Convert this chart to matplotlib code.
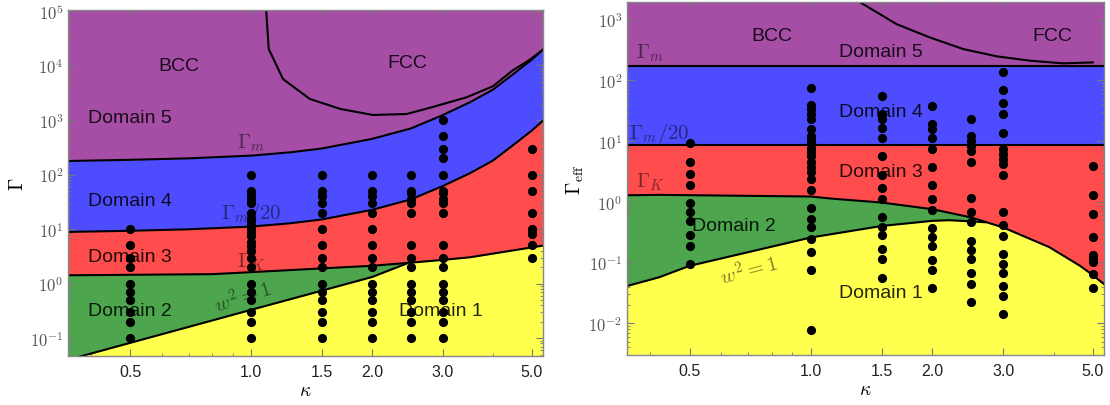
import numpy as np
import matplotlib
matplotlib.use('Agg')
import matplotlib.pyplot as plt
from matplotlib.ticker import FixedLocator, FuncFormatter, LogLocator, NullFormatter

plt.rcParams['mathtext.fontset'] = 'cm'
plt.rcParams['font.family'] = ['Liberation Sans', 'DejaVu Sans']

# ---------------- data: left panel (Gamma vs kappa) ----------------
kappa_m = [0.35, 0.5, 0.7, 1.0, 1.25, 1.5, 2.0, 2.5, 3.0, 3.5, 4.0, 4.5, 5.0, 5.33]
gamma_m = [177, 186, 198, 222, 255, 300, 450, 700, 1230, 2100, 3600, 7000, 12800, 19500]
kappa_K = [0.35, 0.8, 1.0, 1.5, 2.0, 2.5, 3.0, 3.5, 5.33]
gamma_K = [1.42, 1.49, 1.62, 1.90, 2.12, 2.42, 2.72, 3.03, 4.97]
kappa_w = [0.35, 1.0, 2.0, 2.45]
gamma_w = [0.040, 0.33, 1.32, 2.36]
kappa_yel = [0.35, 1.0, 2.0, 2.45, 2.5, 3.0, 3.5, 5.33]
gamma_yel = [0.040, 0.33, 1.32, 2.36, 2.42, 2.72, 3.03, 4.97]
kappa_fcc = [1.09, 1.106, 1.20, 1.40, 1.67, 2.01, 2.44, 2.83, 3.44, 4.0, 4.47, 4.93, 5.33]
gamma_fcc = [1.04e5, 20100, 5650, 2430, 1590, 1236, 1288, 1730, 2610, 4150, 8030, 12600, 19500]

dots_left = {
    0.5: [10, 5, 3, 2, 1, 0.7, 0.5, 0.3, 0.2, 0.1],
    1.0: [100, 50, 43, 36, 30, 20, 16, 14, 12, 10, 8.6, 7.4, 5.8, 4.8, 4, 3, 2, 1, 0.7, 0.5, 0.3, 0.2, 0.1, 0.01],
    1.5: [100, 50, 40, 30, 20, 10, 5, 3, 2, 1, 0.7, 0.5, 0.3, 0.2, 0.1],
    2.0: [100, 50, 40, 30, 20, 10, 5, 3, 2, 1, 0.7, 0.5, 0.3, 0.2, 0.1],
    2.5: [100, 50, 45, 35, 30, 20, 5, 3, 2, 1, 0.7, 0.5, 0.3, 0.2, 0.1],
    3.0: [1000, 500, 300, 200, 100, 50, 45, 35, 30, 20, 5, 3, 2, 1, 0.7, 0.5, 0.3, 0.2, 0.1],
    5.0: [300, 100, 50, 20, 10, 9, 8, 5, 3],
}

# ---------------- data: right panel (Gamma_eff vs kappa) ----------------
gamma_m_eff = 171.0
gamma_m20_eff = 8.55
kappa_K2 = [0.35, 0.42, 1.0, 1.12, 1.5, 2.0, 2.5, 3.0, 3.9, 4.65, 5.0, 5.33]
gamma_K2 = [1.28, 1.30, 1.22, 1.13, 0.97, 0.755, 0.551, 0.377, 0.179, 0.088, 0.062, 0.044]
kappa_yel2 = [0.35, 0.42, 0.5, 1.0, 1.5, 2.0, 2.2, 2.5, 2.7, 3.0, 3.9, 4.65, 5.0, 5.33]
gamma_yel2 = [0.041, 0.057, 0.088, 0.258, 0.40, 0.485, 0.497, 0.475, 0.46, 0.377, 0.179, 0.088, 0.062, 0.044]
n_w2_visible = 9
kappa_fcc2 = [1.32, 1.63, 1.97, 2.39, 2.89, 3.5, 4.23, 5.0]
gamma_fcc2 = [1950, 843, 509, 326, 248, 210, 190, 197]

dots_right = {
    0.5: [9.2, 4.6, 2.85, 1.9, 0.95, 0.68, 0.485, 0.28, 0.188, 0.094],
    1.0: [76, 39, 33.5, 27.8, 23, 15.5, 12.3, 10.7, 9.3, 7.8, 6.6, 5.7, 4.5, 3.7, 3.1, 2.35, 1.56,
          0.78, 0.53, 0.39, 0.24, 0.15, 0.076, 0.0077],
    1.5: [55.6, 27.8, 23.5, 16.7, 11.4, 5.7, 2.74, 1.67, 1.13, 0.564, 0.377, 0.282, 0.166, 0.113, 0.055],
    2.0: [37.1, 19.0, 15.7, 11.4, 7.35, 3.67, 1.88, 1.10, 0.735, 0.363, 0.258, 0.184, 0.110, 0.0755, 0.0374],
    2.5: [22.9, 11.9, 10.1, 8.3, 6.9, 4.5, 1.15, 0.69, 0.47, 0.227, 0.16, 0.113, 0.068, 0.045, 0.0225],
    3.0: [138, 69, 41.6, 27.8, 13.8, 7.36, 6.1, 5.0, 4.17, 2.74, 0.69, 0.417, 0.268, 0.137, 0.096,
          0.0683, 0.0411, 0.0283, 0.0141],
    5.0: [3.81, 1.28, 0.64, 0.258, 0.132, 0.116, 0.1, 0.064, 0.0387],
}

xticks = [0.5, 1.0, 1.5, 2.0, 3.0, 5.0]
xticklabels = ['0.5', '1.0', '1.5', '2.0', '3.0', '5.0']
yticks_left = [1e-1, 1e0, 1e1, 1e2, 1e3, 1e4, 1e5]
yticks_right = [1e-2, 1e-1, 1e0, 1e1, 1e2, 1e3]

# ---------------- style ----------------
C_PURPLE = '#A64DA6'
C_BLUE = '#4D4DFF'
C_RED = '#FF4D4D'
C_GREEN = '#4DA64D'
C_YELLOW = '#FFFF4D'
XLIM = (0.35, 5.33)

fig = plt.figure(figsize=(11.1, 4.06), dpi=100)
ax1 = fig.add_axes([0.0613, 0.1207, 0.4279, 0.8522])
ax2 = fig.add_axes([0.5649, 0.1232, 0.4297, 0.8695])


def style_axes(ax, ylim, ylabel, yticks):
    ax.set_xscale('log')
    ax.set_yscale('log')
    ax.set_xlim(*XLIM)
    ax.set_ylim(*ylim)
    ax.xaxis.set_major_locator(FixedLocator(xticks))
    ax.xaxis.set_major_formatter(FuncFormatter(lambda v, p: xticklabels[xticks.index(v)] if v in xticks else ''))
    ax.xaxis.set_minor_locator(LogLocator(base=10, subs=np.arange(2, 10)))
    ax.xaxis.set_minor_formatter(NullFormatter())
    ax.yaxis.set_major_locator(FixedLocator(yticks))
    ax.yaxis.set_major_formatter(FuncFormatter(lambda v, p: r'$10^{%d}$' % int(round(np.log10(v)))))
    ax.yaxis.set_minor_locator(LogLocator(base=10, subs=np.arange(2, 10), numticks=20))
    ax.yaxis.set_minor_formatter(NullFormatter())
    ax.tick_params(which='both', direction='in', top=True, right=True, color='#777777')
    ax.tick_params(which='major', length=5, width=0.8)
    ax.tick_params(which='minor', length=2.5, width=0.6)
    ax.tick_params(axis='y', labelsize=12, labelcolor='#555555')
    ax.tick_params(axis='x', pad=6, labelsize=11.5, labelcolor='#222222')
    for s in ax.spines.values():
        s.set_color('#888888')
        s.set_linewidth(1.0)
    ax.set_xlabel(r'$\kappa$', fontsize=14, labelpad=2)
    ax.set_ylabel(ylabel, fontsize=14, labelpad=2)


def draw_dots(ax, dots):
    for k, vals in dots.items():
        ax.plot([k] * len(vals), vals, 'o', color='black', markersize=5.6, zorder=5, clip_on=True)


LW = 1.5
TXT = dict(fontsize=14, color='black', alpha=0.85, ha='center', va='center', zorder=6)
LBL = dict(fontsize=15, color='black', alpha=0.5, ha='center', va='center', zorder=6)

# ---------------- left panel ----------------
YL1 = (0.047, 1.04e5)
km = np.array(kappa_m)
gm = np.array(gamma_m)
ax1.fill_between(km, gm, YL1[1], color=C_PURPLE, lw=0)
ax1.fill_between(km, gm / 20, gm, color=C_BLUE, lw=0)
ax1.fill_between(km, YL1[0], gm / 20, color=C_RED, lw=0)
ax1.fill_between(kappa_K, YL1[0], gamma_K, color=C_GREEN, lw=0)
ax1.fill_between(kappa_yel, YL1[0], gamma_yel, color=C_YELLOW, lw=0)
ax1.plot(km, gm, 'k-', lw=LW)
ax1.plot(km, gm / 20, 'k-', lw=LW)
ax1.plot(kappa_K, gamma_K, 'k-', lw=LW)
ax1.plot(kappa_w, gamma_w, 'k-', lw=LW)
ax1.plot(kappa_fcc, gamma_fcc, 'k-', lw=LW)
draw_dots(ax1, dots_left)
style_axes(ax1, YL1, r'$\Gamma$', yticks_left)

ax1.text(0.66, 1.0e4, 'BCC', **TXT)
ax1.text(2.45, 1.15e4, 'FCC', **TXT)
ax1.text(0.5, 1100, 'Domain 5', **TXT)
ax1.text(0.5, 33, 'Domain 4', **TXT)
ax1.text(0.5, 3.2, 'Domain 3', **TXT)
ax1.text(0.5, 0.32, 'Domain 2', **TXT)
ax1.text(2.96, 0.32, 'Domain 1', **TXT)
ax1.text(1.0, 390, r'$\Gamma_m$', **LBL)
ax1.text(1.0, 20, r'$\Gamma_m/20$', **LBL)
ax1.text(1.0, 2.6, r'$\Gamma_K$', **LBL)
ax1.text(0.95, 0.6, r'$w^2=1$', rotation=18, **LBL)

# ---------------- right panel ----------------
YL2 = (0.003, 1950)
ax2.axhspan(gamma_m_eff, YL2[1], color=C_PURPLE, lw=0)
ax2.axhspan(gamma_m20_eff, gamma_m_eff, color=C_BLUE, lw=0)
ax2.axhspan(YL2[0], gamma_m20_eff, color=C_RED, lw=0)
ax2.fill_between(kappa_K2, YL2[0], gamma_K2, color=C_GREEN, lw=0)
ax2.fill_between(kappa_yel2, YL2[0], gamma_yel2, color=C_YELLOW, lw=0)
ax2.axhline(gamma_m_eff, color='k', lw=LW)
ax2.axhline(gamma_m20_eff, color='k', lw=LW)
ax2.plot(kappa_K2, gamma_K2, 'k-', lw=LW)
ax2.plot(kappa_yel2[:n_w2_visible], gamma_yel2[:n_w2_visible], 'k-', lw=LW)
ax2.plot(kappa_fcc2, gamma_fcc2, 'k-', lw=LW)
draw_dots(ax2, dots_right)
style_axes(ax2, YL2, r'$\Gamma_{\rm eff}$', yticks_right)

ax2.text(0.80, 540, 'BCC', **TXT)
ax2.text(3.96, 540, 'FCC', **TXT)
ax2.text(1.49, 300, 'Domain 5', **TXT)
ax2.text(1.49, 31, 'Domain 4', **TXT)
ax2.text(1.49, 3.2, 'Domain 3', **TXT)
ax2.text(0.645, 0.41, 'Domain 2', **TXT)
ax2.text(1.49, 0.032, 'Domain 1', **TXT)
ax2.text(0.40, 288, r'$\Gamma_m$', **LBL)
ax2.text(0.42, 13.9, r'$\Gamma_m/20$', **LBL)
ax2.text(0.40, 2.2, r'$\Gamma_K$', **LBL)
ax2.text(0.70, 0.078, r'$w^2=1$', rotation=15, **LBL)

fig.savefig('out.png', dpi=100)
